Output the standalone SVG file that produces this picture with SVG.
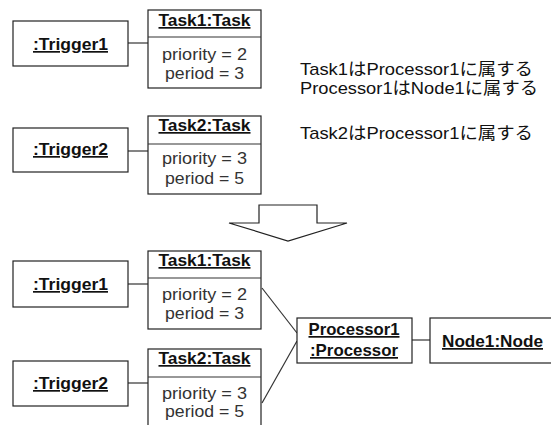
<svg xmlns="http://www.w3.org/2000/svg" width="551" height="425" viewBox="0 0 551 425">
<style>
.box{fill:#fff;stroke:#222;stroke-width:1.2}
.t{font-family:"Liberation Sans","Noto Sans CJK JP",sans-serif;font-size:17px;fill:#111;text-anchor:middle}
.b{font-weight:bold;text-decoration:underline}
.a{fill:#333}
.n{font-family:"Liberation Sans","Noto Sans CJK JP",sans-serif;font-size:17px;fill:#111}
.c{stroke:#333;stroke-width:1.2;fill:none}
</style>
<rect width="551" height="425" fill="#fff"/>
<g id="connectors">
<line class="c" x1="128" y1="43" x2="148" y2="43"/>
<line class="c" x1="128" y1="151" x2="148" y2="151"/>
<line class="c" x1="128" y1="284" x2="148" y2="284"/>
<line class="c" x1="128" y1="383" x2="148" y2="383"/>
<line class="c" x1="262" y1="288" x2="297" y2="333"/>
<line class="c" x1="262" y1="403" x2="297" y2="341"/>
<line class="c" x1="412" y1="340" x2="430" y2="340"/>
</g>
<g id="trigger1a"><rect class="box" x="13" y="21" width="115" height="45"/><text class="t b" x="70.5" y="50" textLength="75" lengthAdjust="spacingAndGlyphs">:Trigger1</text></g>
<g id="task1a"><rect class="box" x="148" y="10" width="113" height="78"/><line class="c" x1="148" y1="37" x2="261" y2="37"/><text class="t b" x="204.5" y="26" textLength="92" lengthAdjust="spacingAndGlyphs">Task1:Task</text><text class="t a" x="204.5" y="60" textLength="85" lengthAdjust="spacingAndGlyphs">priority = 2</text><text class="t a" x="204.5" y="79" textLength="79" lengthAdjust="spacingAndGlyphs">period = 3</text></g>
<g id="trigger2a"><rect class="box" x="13" y="128" width="115" height="44"/><text class="t b" x="70.5" y="155" textLength="75" lengthAdjust="spacingAndGlyphs">:Trigger2</text></g>
<g id="task2a"><rect class="box" x="148" y="116" width="113" height="78"/><line class="c" x1="148" y1="144" x2="261" y2="144"/><text class="t b" x="204.5" y="131" textLength="92" lengthAdjust="spacingAndGlyphs">Task2:Task</text><text class="t a" x="204.5" y="164" textLength="85" lengthAdjust="spacingAndGlyphs">priority = 3</text><text class="t a" x="204.5" y="184" textLength="79" lengthAdjust="spacingAndGlyphs">period = 5</text></g>
<g id="note"><text class="n" x="300" y="75" textLength="233" lengthAdjust="spacingAndGlyphs">Task1はProcessor1に属する</text><text class="n" x="300" y="94" textLength="238" lengthAdjust="spacingAndGlyphs">Processor1はNode1に属する</text><text class="n" x="300" y="139" textLength="233" lengthAdjust="spacingAndGlyphs">Task2はProcessor1に属する</text></g>
<g id="arrow"><polygon points="259,205 317,205 317,223 347,223 288,241 229,223 259,223" fill="#fff" stroke="#222" stroke-width="1.2"/></g>
<g id="trigger1b"><rect class="box" x="13" y="261" width="115" height="46"/><text class="t b" x="70.5" y="290" textLength="75" lengthAdjust="spacingAndGlyphs">:Trigger1</text></g>
<g id="task1b"><rect class="box" x="148" y="251" width="113" height="78"/><line class="c" x1="148" y1="278" x2="261" y2="278"/><text class="t b" x="204.5" y="266" textLength="92" lengthAdjust="spacingAndGlyphs">Task1:Task</text><text class="t a" x="204.5" y="300" textLength="85" lengthAdjust="spacingAndGlyphs">priority = 2</text><text class="t a" x="204.5" y="319" textLength="79" lengthAdjust="spacingAndGlyphs">period = 3</text></g>
<g id="trigger2b"><rect class="box" x="13" y="361" width="115" height="45"/><text class="t b" x="70.5" y="389" textLength="75" lengthAdjust="spacingAndGlyphs">:Trigger2</text></g>
<g id="task2b"><rect class="box" x="148" y="349" width="113" height="90"/><line class="c" x1="148" y1="377" x2="261" y2="377"/><text class="t b" x="204.5" y="364" textLength="92" lengthAdjust="spacingAndGlyphs">Task2:Task</text><text class="t a" x="204.5" y="399" textLength="85" lengthAdjust="spacingAndGlyphs">priority = 3</text><text class="t a" x="204.5" y="417" textLength="79" lengthAdjust="spacingAndGlyphs">period = 5</text></g>
<g id="processor1"><rect class="box" x="297" y="318" width="115" height="45"/><text class="t b" x="354" y="335" textLength="91" lengthAdjust="spacingAndGlyphs">Processor1</text><text class="t b" x="354" y="356" textLength="88" lengthAdjust="spacingAndGlyphs">:Processor</text></g>
<g id="node1"><rect class="box" x="430" y="318" width="125" height="45"/><text class="t b" x="492.5" y="347" textLength="101" lengthAdjust="spacingAndGlyphs">Node1:Node</text></g>
</svg>
